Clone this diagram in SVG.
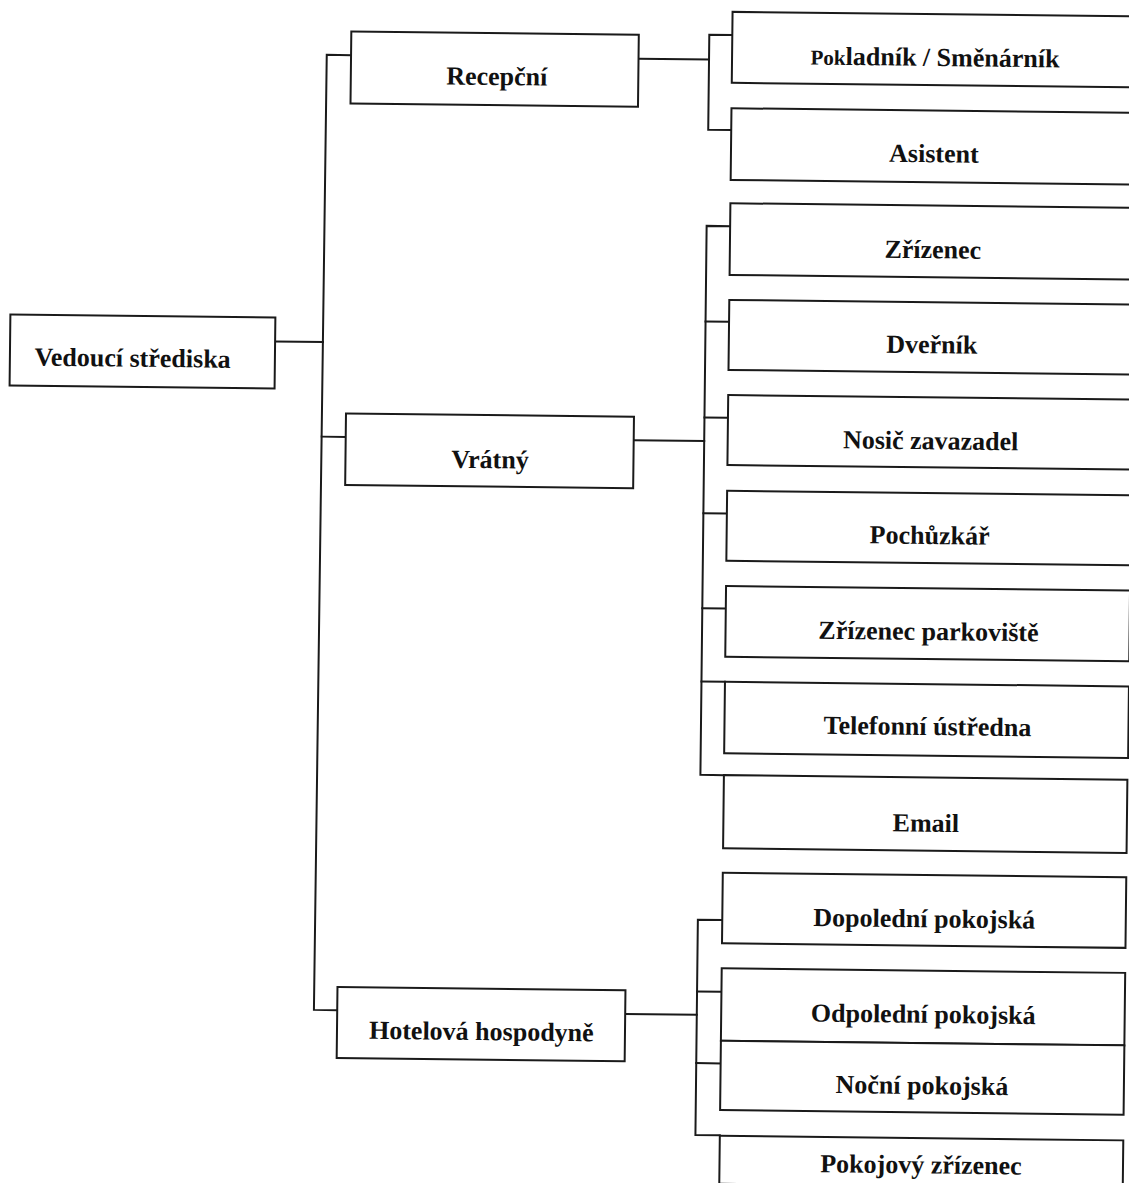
<svg xmlns="http://www.w3.org/2000/svg" width="1129" height="1183" viewBox="0 0 1129 1183">
<style>
.box{fill:#fff;stroke:#1a1a1a;stroke-width:2}
.conn{fill:none;stroke:#1a1a1a;stroke-width:2;stroke-linecap:square}
.lbl{font-family:"Liberation Serif","Times New Roman",serif;font-weight:bold;font-size:26px;fill:#111;text-anchor:middle}
</style>
<rect width="1129" height="1183" fill="#fff"/>
<g transform="rotate(0.65 565 590)">
<g id="connectors">
<path class="conn" d="M272.3 344.7 H320.2"/>
<path class="conn" d="M345 57.6 H320.7 L318.7 1012.7 H342"/>
<path class="conn" d="M320 439.4 H344"/>
<path class="conn" d="M632.5 58 H703"/>
<path class="conn" d="M726 33.2 H703 V128.2 H726"/>
<path class="conn" d="M632 439.5 H702.5"/>
<path class="conn" d="M726 224.3 H702.5 V773.3 H726"/>
<path class="conn" d="M702.5 320 H726 M702.5 416 H726 M702.5 511.6 H726 M702.5 606.6 H726 M702.5 680 H726"/>
<path class="conn" d="M630 1013.2 H701.6"/>
<path class="conn" d="M726 918.3 H701.6 V1133.5 H726"/>
<path class="conn" d="M701.6 990 H726 M701.6 1061.6 H726"/>
</g>
<g id="n-vedouci"><rect class="box" x="7.3" y="320.8" width="265" height="71"/><text class="lbl" x="130" y="371.6">Vedoucí střediska</text></g>
<g id="n-recepcni"><rect class="box" x="345" y="34" width="287.5" height="72"/><text class="lbl" x="491" y="85.8">Recepční</text></g>
<g id="n-vratny"><rect class="box" x="344" y="416" width="288" height="71.5"/><text class="lbl" x="488.6" y="469.1">Vrátný</text></g>
<g id="n-hotelova"><rect class="box" x="342" y="989.5" width="288" height="71"/><text class="lbl" x="486.4" y="1041">Hotelová hospodyně</text></g>
<g id="n-pokladnik"><rect class="box" x="726" y="10" width="404" height="71"/><text class="lbl" x="929" y="61.8"><tspan font-size="21">Pok</tspan>ladník / Směnárník</text></g>
<g id="n-asistent"><rect class="box" x="726" y="106.4" width="404" height="71.7"/><text class="lbl" x="929" y="158.1">Asistent</text></g>
<g id="n-zrizenec"><rect class="box" x="726" y="201.4" width="404" height="71.7"/><text class="lbl" x="929" y="254.1">Zřízenec</text></g>
<g id="n-dvernik"><rect class="box" x="726" y="298.1" width="404" height="70"/><text class="lbl" x="929" y="349.1">Dveřník</text></g>
<g id="n-nosic"><rect class="box" x="726" y="393.2" width="404" height="70"/><text class="lbl" x="929" y="445.2">Nosič zavazadel</text></g>
<g id="n-pochuzkar"><rect class="box" x="726" y="488.9" width="404" height="70"/><text class="lbl" x="929" y="539.9">Pochůzkář</text></g>
<g id="n-parkoviste"><rect class="box" x="726" y="584.2" width="404" height="70.7"/><text class="lbl" x="929" y="635.9">Zřízenec parkoviště</text></g>
<g id="n-telefonni"><rect class="box" x="726" y="680" width="404" height="71.5"/><text class="lbl" x="929" y="730.9">Telefonní ústředna</text></g>
<g id="n-email"><rect class="box" x="726" y="773.3" width="403.5" height="73.2"/><text class="lbl" x="928.5" y="827.6">Email</text></g>
<g id="n-dopoledni"><rect class="box" x="726" y="870.9" width="403.5" height="70.6"/><text class="lbl" x="928" y="923.2">Dopolední pokojská</text></g>
<g id="n-odpoledni"><rect class="box" x="726" y="966.5" width="403.5" height="72.5"/><text class="lbl" x="928" y="1018.7">Odpolední pokojská</text></g>
<g id="n-nocni"><rect class="box" x="726" y="1039" width="403.5" height="69.3"/><text class="lbl" x="927.5" y="1090">Noční pokojská</text></g>
<g id="n-pokojovy"><rect class="box" x="726" y="1134" width="403.5" height="48"/><text class="lbl" x="927.5" y="1169.3">Pokojový zřízenec</text></g>
</g>
</svg>
